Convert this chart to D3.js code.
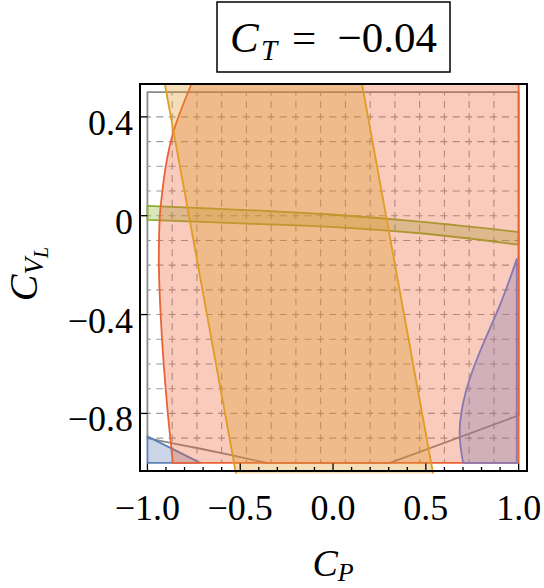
<!DOCTYPE html>
<html>
<head>
<meta charset="utf-8">
<script src="https://cdn.jsdelivr.net/npm/d3@7"></script>
<style>
body { margin: 0; background: #fff; }
text { font-family: "Liberation Serif", "DejaVu Serif", serif; fill: #000; }
</style>
</head>
<body>
<div id="chart"></div>
<script>
// panel value of C_T
const ctLabel = "\u22120.04";

// ticks
const xTicks = [-1, -0.5, 0, 0.5, 1];
const xTickLabels = ["\u22121.0", "\u22120.5", "0.0", "0.5", "1.0"];
const yTicks = [0.4, 0, -0.4, -0.8];
const yTickLabels = ["0.4", "0", "\u22120.4", "\u22120.8"];

// region boundaries, [C_P, C_VL]
const grayRegion = [[-1, 0.5], [1, 0.5], [1, -0.808], [0.307, -1], [-0.36, -1],
  [-0.555, -0.968], [-0.70, -0.945], [-0.863, -0.921], [-1, -0.900]];
const blueRegion = [[-1, -0.893], [-1, -1], [-0.715, -1]];
const greenTop = [[-1, 0.040], [-0.5, 0.024], [-0.016, 0.005], [0.469, -0.024], [1, -0.066]];
const greenBottom = [[-1, -0.017], [-0.5, -0.031], [-0.016, -0.045], [0.469, -0.071], [1, -0.117]];
const redLeftEdge = [[-0.763, 0.533], [-0.819, 0.428], [-0.864, 0.33], [-0.900, 0.206],
  [-0.922, 0.084], [-0.933, 0], [-0.938, -0.119], [-0.938, -0.22], [-0.922, -0.492],
  [-0.895, -0.759], [-0.863, -1]];
const orangeLeft = [[-0.906, 0.533], [-0.523, -1.043]];
const orangeRight = [[0.156, 0.533], [0.539, -1.043]];
const purpleEdge = [[0.99, -0.175], [0.99, -0.175], [0.905, -0.36], [0.79, -0.545],
  [0.705, -0.72], [0.672, -0.88], [0.701, -1], [0.701, -1]];

const colors = {
  blue: "#5E81B5", orange: "#E19C24", green: "#8FB032",
  red: "#EB6235", purple: "#8778B3", gray: "#8a8a8a"
};
const fillOpacity = 0.33;

const width = 544, height = 588;
const frame = {left: 140, right: 527, top: 84, bottom: 471};

const svg = d3.select("#chart").append("svg")
  .attr("width", width).attr("height", height);

const x = d3.scaleLinear().domain([-1.04, 1.045]).range([frame.left, frame.right]);
const y = d3.scaleLinear().domain([-1.033, 0.533]).range([frame.bottom, frame.top]);

const line = d3.line().x(d => x(d[0])).y(d => y(d[1]));
const smooth = d3.line().x(d => x(d[0])).y(d => y(d[1])).curve(d3.curveCatmullRom);
const basis = d3.line().x(d => x(d[0])).y(d => y(d[1])).curve(d3.curveBasis);

// grid, 15 divisions each way
const gx = d3.range(1, 15).map(i => -1 + i * 2 / 15);
const gy = d3.range(1, 15).map(i => -1 + i * 0.1);
const grid = svg.append("g").attr("stroke", "#9a9a9a").attr("stroke-width", 1.1)
  .attr("stroke-dasharray", "7,5.35").attr("stroke-dashoffset", 3.5);
grid.selectAll(".gv").data(gx).enter().append("line")
  .attr("x1", d => x(d)).attr("x2", d => x(d)).attr("y1", y(0.5)).attr("y2", y(-1));
grid.selectAll(".gh").data(gy).enter().append("line")
  .attr("y1", d => y(d)).attr("y2", d => y(d)).attr("x1", x(-1)).attr("x2", x(1));

const regions = svg.append("g").attr("stroke-width", 1.8).attr("stroke-linejoin", "round");

// gray outline region
regions.append("path").attr("d", line(grayRegion) + "Z")
  .attr("fill", "none").attr("stroke", colors.gray);

// blue triangle
regions.append("path").attr("d", line(blueRegion) + "Z")
  .attr("fill", colors.blue).attr("fill-opacity", fillOpacity).attr("stroke", colors.blue);

// green band
const gTop = smooth(greenTop);
const gBot = smooth(greenBottom.slice().reverse());
regions.append("path").attr("d", gTop + "L" + gBot.slice(1) + "Z")
  .attr("fill", colors.green).attr("fill-opacity", fillOpacity).attr("stroke", colors.green);

// red region
regions.append("path").attr("d", smooth(redLeftEdge) + "L" + x(1) + "," + y(-1) + "L" + x(1) + "," + y(0.533) + "Z")
  .attr("fill", colors.red).attr("fill-opacity", fillOpacity).attr("stroke", colors.red);

// orange band
const orangePoly = orangeLeft.concat(orangeRight.slice().reverse());
regions.append("path").attr("d", line(orangePoly) + "Z")
  .attr("fill", colors.orange).attr("fill-opacity", fillOpacity).attr("stroke", "none");
[orangeLeft, orangeRight].forEach(l => {
  regions.append("path").attr("d", line(l)).attr("fill", "none").attr("stroke", colors.orange);
});

// purple region
regions.append("path").attr("d", basis(purpleEdge) + "L" + x(0.99) + "," + y(-1) + "Z")
  .attr("fill", colors.purple).attr("fill-opacity", fillOpacity).attr("stroke", colors.purple);

// frame
svg.append("rect").attr("x", frame.left).attr("y", frame.top)
  .attr("width", frame.right - frame.left).attr("height", frame.bottom - frame.top)
  .attr("fill", "none").attr("stroke", "#000").attr("stroke-width", 2);

// ticks
const xMinor = d3.range(-10, 11).map(i => i / 10);
svg.append("g").selectAll("line").data(xMinor).enter().append("line")
  .attr("x1", d => x(d)).attr("x2", d => x(d))
  .attr("y1", frame.bottom).attr("y2", d => frame.bottom - (xTicks.some(t => Math.abs(t - d) < 1e-9) ? 7.5 : 4))
  .attr("stroke", "#000").attr("stroke-width", 1.3);
svg.append("g").selectAll("line").data(yTicks).enter().append("line")
  .attr("y1", d => y(d)).attr("y2", d => y(d))
  .attr("x1", frame.left).attr("x2", frame.left + 7.5)
  .attr("stroke", "#000").attr("stroke-width", 1.3);

// tick labels
svg.append("g").selectAll("text").data(xTicks).enter().append("text")
  .attr("x", d => x(d)).attr("y", 520).attr("text-anchor", "middle")
  .attr("font-size", 36).text((d, i) => xTickLabels[i]);
svg.append("g").selectAll("text").data(yTicks).enter().append("text")
  .attr("x", 133).attr("y", d => y(d) + 18).attr("text-anchor", "end")
  .attr("font-size", 36).text((d, i) => yTickLabels[i]);

// axis titles
const xt = svg.append("text").attr("x", 333).attr("y", 576).attr("text-anchor", "middle").attr("font-size", 38);
xt.append("tspan").attr("font-style", "italic").text("C");
xt.append("tspan").attr("font-style", "italic").attr("font-size", 26).attr("dy", 5).text("P");

const yt = svg.append("text").attr("transform", "translate(37,274) rotate(-90)")
  .attr("text-anchor", "middle").attr("font-size", 40);
yt.append("tspan").attr("font-style", "italic").text("C");
yt.append("tspan").attr("font-style", "italic").attr("font-size", 27).attr("dy", 6).text("V");
yt.append("tspan").attr("font-style", "italic").attr("font-size", 20).attr("dy", 5).text("L");

// title box
svg.append("rect").attr("x", 217).attr("y", 2).attr("width", 233).attr("height", 70)
  .attr("fill", "#fff").attr("stroke", "#000").attr("stroke-width", 1.5);
const tt = svg.append("g").attr("font-size", 43);
tt.append("text").attr("x", 230).attr("y", 52).attr("font-style", "italic").text("C");
tt.append("text").attr("x", 261).attr("y", 60).attr("font-size", 29).attr("font-style", "italic").text("T");
tt.append("text").attr("x", 292).attr("y", 52).text("=");
tt.append("text").attr("x", 437).attr("y", 52).attr("text-anchor", "end").text(ctLabel);
</script>
</body>
</html>
